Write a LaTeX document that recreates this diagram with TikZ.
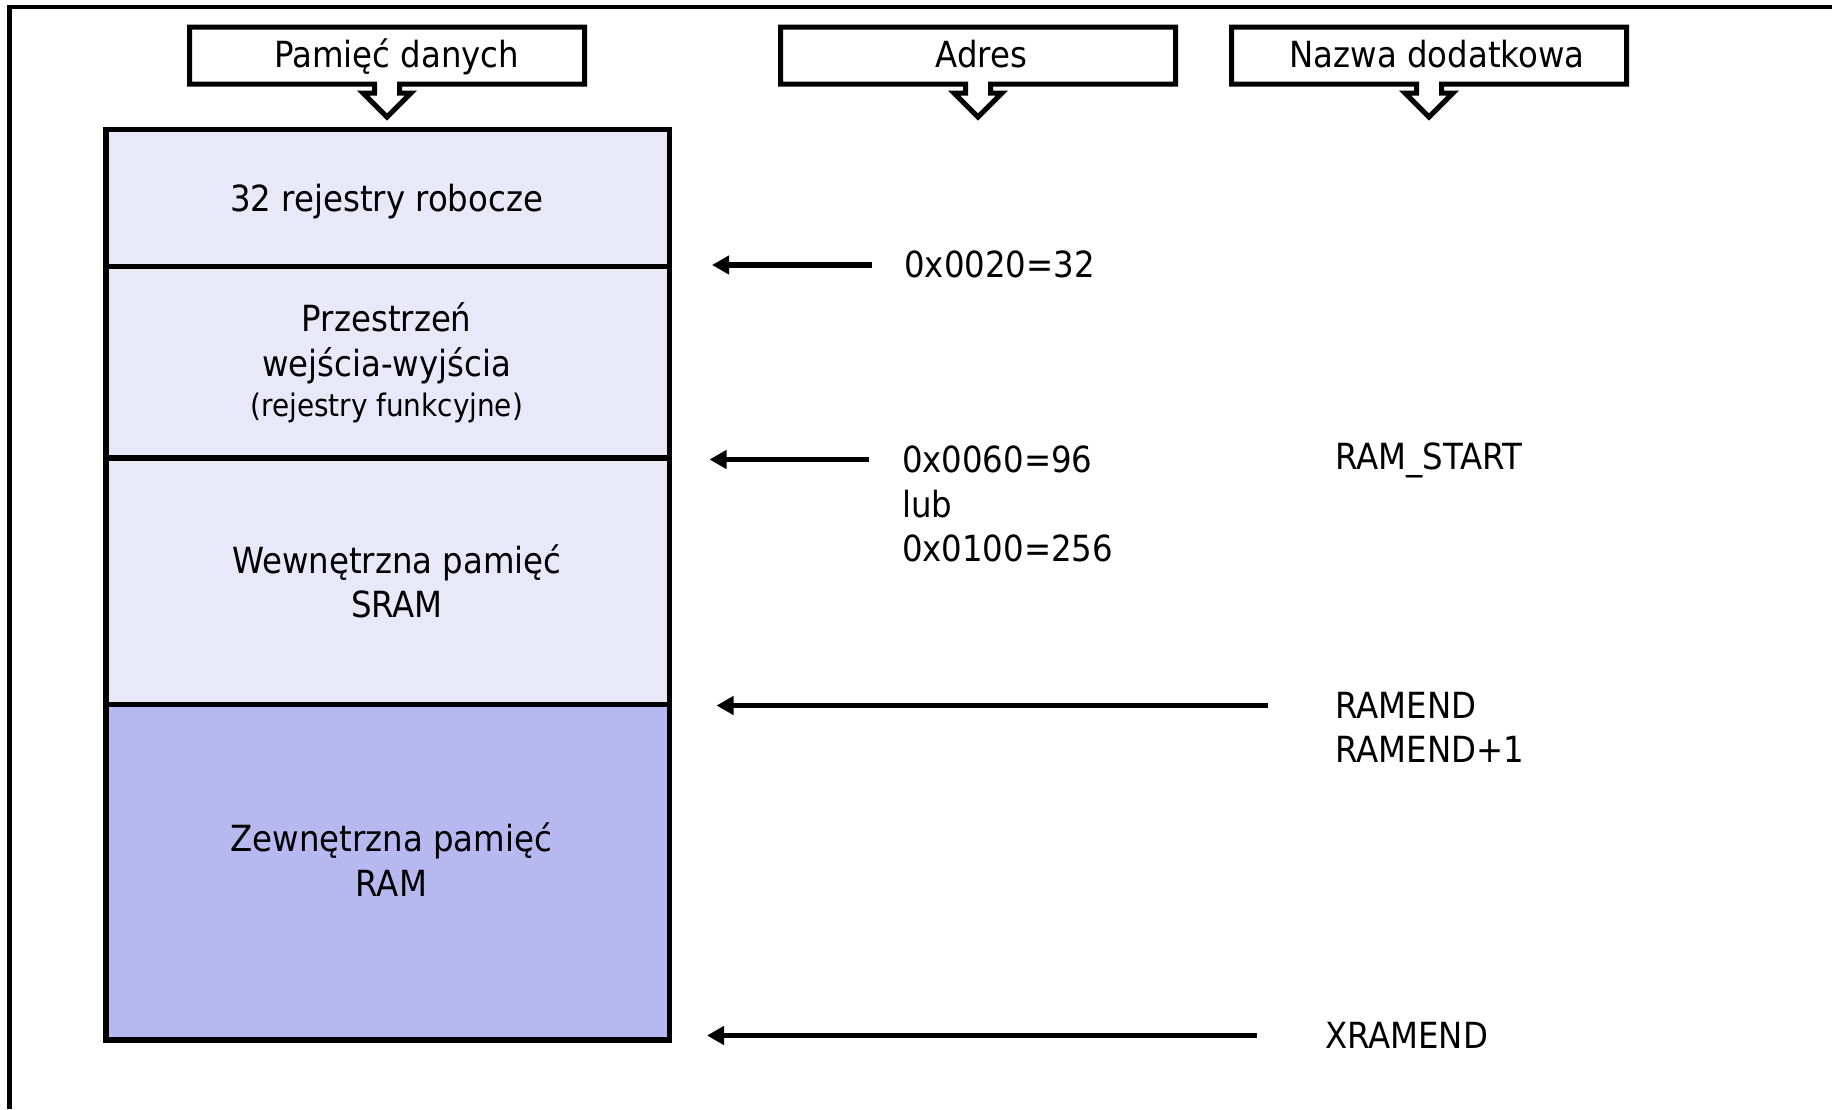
\documentclass[tikz,border=0pt]{standalone}
\usepackage{fontspec}
\setmainfont{DejaVu Sans Condensed}
\usetikzlibrary{arrows.meta}
\definecolor{cellfill}{RGB}{232,232,248}
\definecolor{xramfill}{RGB}{184,184,240}
\begin{document}
\begin{tikzpicture}[x=1pt,y=-1pt,
  every node/.style={inner sep=0pt, outer sep=0pt},
  txt/.style={font=\fontsize{36}{43}\selectfont, anchor=base},
  txtl/.style={txt, anchor=base west},
  small/.style={font=\fontsize{31}{37}\selectfont, anchor=base},
  cell/.style={draw, line width=5.5pt, minimum width=563.5pt, fill=cellfill},
  hdr/.style={minimum width=395pt, minimum height=57pt},
  hdrline/.style={draw, line width=5pt, fill=white, line join=miter},
  ptr/.style={line width=5.5pt, -{Triangle[length=17pt,width=18pt]}}
]
\useasboundingbox (0,0) rectangle (1832,1109);

% outer frame (only its top and left sides fall on the page)
\coordinate (fa) at (9.5,1109);
\coordinate (fb) at (9.5,7);
\coordinate (fc) at (1832,7);
\draw[line width=4.5pt] (fa) -- (fb) -- (fc);

% memory map
\node[cell, minimum height=136.7pt] (regs) at (387.75,198.05) {};
\node[cell, minimum height=191.6pt] (io)   at (387.75,362.2) {};
\node[cell, minimum height=246.5pt] (sram) at (387.75,581.25) {};
\node[cell, minimum height=335.5pt, fill=xramfill] (xram) at (387.75,872.25) {};

\node[txt] (tregs) at (386.7,211) {32 rejestry robocze};
\node[txt] (tio1) at (386.7,331) {Przestrzeń};
\node[txt] (tio2) at (386.7,376) {wejścia-wyjścia};
\node[small] (tio3) at (386.7,416.5) {(rejestry funkcyjne)};
\node[txt] (tsram1) at (397,573) {Wewnętrzna pamięć};
\node[txt] (tsram2) at (397,617) {SRAM};
\node[txt] (txram1) at (391.4,851) {Zewnętrzna pamięć};
\node[txt] (txram2) at (391.4,896) {RAM};

% column headers with down-arrow callouts
\foreach \n/\cx in {hd1/387, hd2/978, hd3/1429}{
  \node[hdr] (\n) at (\cx,55.5) {};
  \draw[hdrline] (\n.south west) -- (\n.north west) -- (\n.north east) -- (\n.south east)
    -- ([xshift=12.5pt]\n.south) -- ([xshift=12.5pt,yshift=-9pt]\n.south)
    -- ([xshift=24pt,yshift=-9pt]\n.south) -- ([yshift=-33pt]\n.south)
    -- ([xshift=-24pt,yshift=-9pt]\n.south) -- ([xshift=-12.5pt,yshift=-9pt]\n.south)
    -- ([xshift=-12.5pt]\n.south) -- cycle;
}
\node[txt] (thd1) at (397,67.5) {Pamięć danych};
\node[txt] (thd2) at (981.5,67.5) {Adres};
\node[txt] (thd3) at (1437,67.5) {Nazwa dodatkowa};

% address pointers
\coordinate (a1s) at (871.5,265);   \coordinate (a1e) at (712,265);
\coordinate (a2s) at (869,459.5);   \coordinate (a2e) at (709.5,459.5);
\coordinate (a3s) at (1267.5,705.5); \coordinate (a3e) at (716.5,705.5);
\coordinate (a4s) at (1257,1035.5); \coordinate (a4e) at (707,1035.5);
\draw[ptr] (a1s) -- (a1e);
\draw[ptr] (a2s) -- (a2e);
\draw[ptr] (a3s) -- (a3e);
\draw[ptr] (a4s) -- (a4e);

% addresses
\node[txtl] (ad1) at (904.3,277.5) {0x0020=32};
\node[txtl] (ad2) at (902,472.5) {0x0060=96};
\node[txtl] (ad3) at (902,517) {lub};
\node[txtl] (ad4) at (902,561.5) {0x0100=256};

% symbolic names
\node[txtl] (nm1) at (1335.5,469) {RAM\_START};
\node[txtl] (nm2) at (1335.5,718) {RAMEND};
\node[txtl] (nm3) at (1335.5,762.5) {RAMEND+1};
\node[txtl] (nm4) at (1325,1048.5) {XRAMEND};
\end{tikzpicture}
\end{document}
